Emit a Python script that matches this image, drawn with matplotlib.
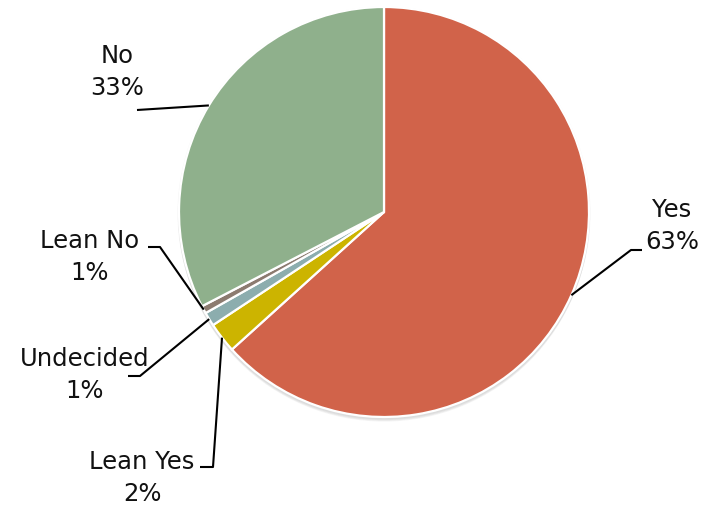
import matplotlib.pyplot as plt
from matplotlib.patches import Circle
import numpy as np

plt.rcParams['font.family'] = ['DejaVu Sans']

labels = ['Yes', 'Lean Yes', 'Undecided', 'Lean No', 'No']
values = [63.3, 2.4, 1.1, 0.6, 32.6]
colors = ['#D1634A', '#CCB400', '#8CADAE', '#8C7B70', '#8FB08C']

W, H = 709, 506
fig = plt.figure(figsize=(W / 100, H / 100), dpi=100)
ax = fig.add_axes([0, 0, 1, 1])

cx, cy, r = 384, H - 213, 205

# soft shadow under the pie
for i, a in enumerate([0.05, 0.05, 0.05, 0.06]):
    ax.add_patch(Circle((cx, cy - 1 - i), r + 1.5 - i * 0.3, color='#555555',
                        alpha=a, lw=0, zorder=0))

wedges, _ = ax.pie(values, colors=colors, startangle=90, counterclock=False,
                   center=(cx, cy), radius=r,
                   wedgeprops={'linewidth': 1.6, 'edgecolor': 'white'})
for w in wedges:
    w.set_zorder(1)

ax.set_xlim(0, W)
ax.set_ylim(0, H)
ax.set_aspect('equal')
ax.axis('off')

# label layout in image pixels (y down): text centre, connector path (elbow points)
layout = {
    'Yes':       ((672, 226), [(642, 251), (631, 251)]),
    'Lean Yes':  ((142, 478), [(200, 468), (213, 468)]),
    'Undecided': ((85, 375),  [(128, 377), (140, 377)]),
    'Lean No':   ((90, 257),  [(148, 248), (160, 248)]),
    'No':        ((117, 72),  [(137, 111)]),
}

total = sum(values)
for w, lab, v in zip(wedges, labels, values):
    ang = np.deg2rad((w.theta1 + w.theta2) / 2)
    px, py = cx + r * np.cos(ang), cy + r * np.sin(ang)
    (tx, ty), path = layout[lab]
    xs = [p[0] for p in path] + [px]
    ys = [H - p[1] for p in path] + [py]
    ax.plot(xs, ys, color='black', lw=1.5, solid_capstyle='butt', zorder=3)
    ax.text(tx, H - ty, '%s\n%d%%' % (lab, round(v / total * 100)),
            ha='center', va='center', fontsize=17.5, color='#111111',
            linespacing=1.45, zorder=4)

fig.savefig('out.png', dpi=100)
